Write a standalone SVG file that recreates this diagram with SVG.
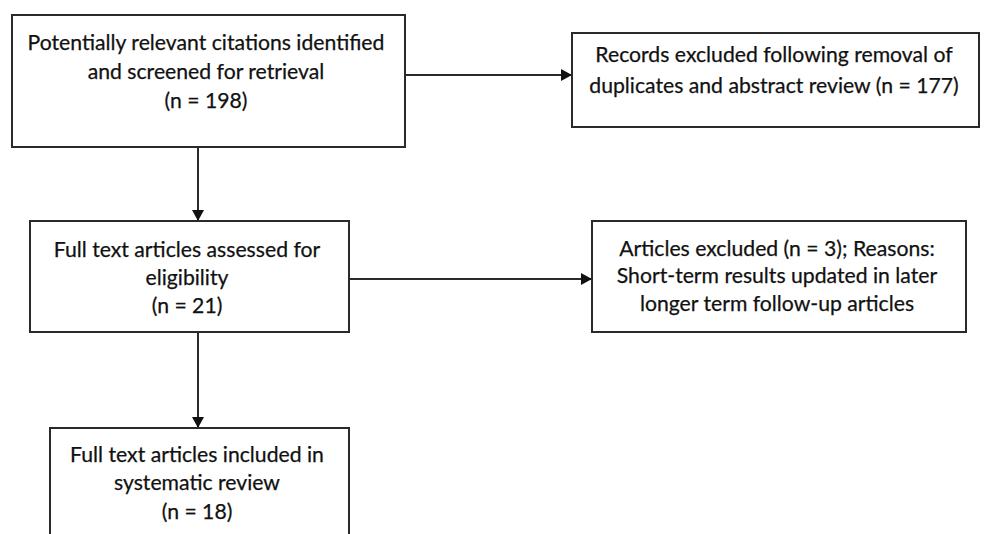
<svg xmlns="http://www.w3.org/2000/svg" width="984" height="534" viewBox="0 0 984 534">
<defs>
<marker id="ah" markerWidth="11" markerHeight="12" refX="11" refY="6" orient="auto" markerUnits="userSpaceOnUse">
<path d="M0,0 L11,6 L0,12 Z" fill="#111"/>
</marker>
<style>
.box{fill:#fff;stroke:#2a2a2a;stroke-width:2}
.t{font-family:Lato,"Liberation Sans",Arial,sans-serif;font-size:21.2px;fill:#111;text-anchor:middle;stroke:#111;stroke-width:0.25}
.c{stroke:#2a2a2a;stroke-width:2;fill:none;marker-end:url(#ah)}
</style>
</defs>
<rect width="984" height="534" fill="#fff"/>
<g id="connectors">
<line class="c" x1="405" y1="75" x2="572" y2="75"/>
<line class="c" x1="198" y1="147" x2="198" y2="221"/>
<line class="c" x1="349" y1="279" x2="592" y2="279"/>
<line class="c" x1="198" y1="332" x2="198" y2="428"/>
</g>
<g id="n1">
<rect class="box" x="12" y="15" width="393" height="132"/>
<text class="t" x="206" y="50">Potentially relevant citations identified</text>
<text class="t" x="206" y="79">and screened for retrieval</text>
<text class="t" x="206" y="108">(n = 198)</text>
</g>
<g id="n2">
<rect class="box" x="572" y="33" width="407" height="94"/>
<text class="t" x="774" y="62">Records excluded following removal of</text>
<text class="t" x="774" y="93">duplicates and abstract review (n = 177)</text>
</g>
<g id="n3">
<rect class="box" x="30" y="221" width="319" height="111"/>
<text class="t" x="187" y="257">Full text articles assessed for</text>
<text class="t" x="187" y="285">eligibility</text>
<text class="t" x="187" y="313">(n = 21)</text>
</g>
<g id="n4">
<rect class="box" x="592" y="221" width="374" height="111"/>
<text class="t" x="777" y="256">Articles excluded (n = 3); Reasons:</text>
<text class="t" x="777" y="283">Short-term results updated in later</text>
<text class="t" x="777" y="311">longer term follow-up articles</text>
</g>
<g id="n5">
<rect class="box" x="50" y="428" width="299" height="120"/>
<text class="t" x="197" y="462">Full text articles included in</text>
<text class="t" x="197" y="490">systematic review</text>
<text class="t" x="197" y="519">(n = 18)</text>
</g>
</svg>
